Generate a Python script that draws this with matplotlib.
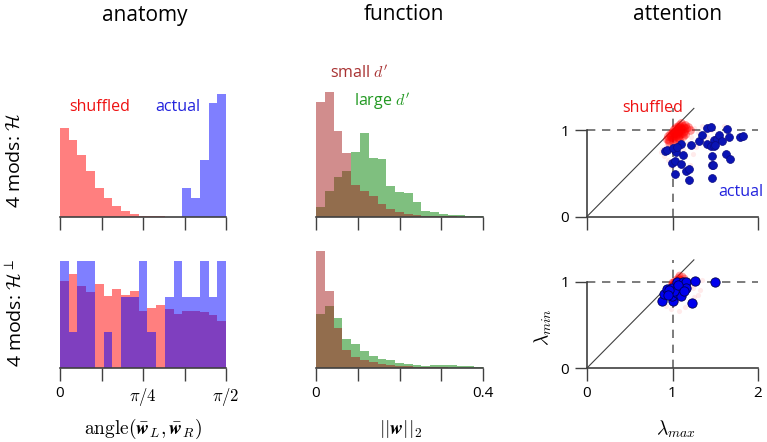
import numpy as np
import matplotlib
matplotlib.use("Agg")
import matplotlib.pyplot as plt

plt.rcParams['font.family'] = ['Open Sans', 'DejaVu Sans']
plt.rcParams['mathtext.fontset'] = 'cm'

# ---------------- data ----------------
col_titles = ["anatomy", "function", "attention"]
row_labels = [r"4 mods: $\mathcal{H}$", r"4 mods: $\mathcal{H}^{\perp}$"]

# angle histograms (19 bins over [0, pi/2], arbitrary count units)
angle_edges = np.linspace(0, np.pi / 2, 20)
angle_shuf_top = [265, 231, 186, 138, 86, 55, 32, 17, 7, 3, 2, 1, 0, 0, 0, 0, 0, 0, 0]
angle_act_top = [0, 0, 0, 0, 0, 0, 0, 0, 0, 0, 0, 0, 0, 0, 85, 57, 170, 340, 368]
angle_shuf_bot = [262, 282, 245, 227, 252, 217, 237, 220, 230, 170, 180, 190, 177, 163, 172, 172, 167, 160, 142]
angle_act_bot = [320, 108, 320, 320, 0, 108, 0, 213, 213, 320, 108, 0, 213, 320, 213, 213, 320, 213, 320]
angle_ticks = [0, np.pi / 8, np.pi / 4, 3 * np.pi / 8, np.pi / 2]
angle_ticklabels = ["0", "", r"$\pi/4$", "", r"$\pi/2$"]

# weight-norm histograms (19 bins over [0, 0.4])
norm_edges = np.linspace(0, 0.4, 20)
norm_small_top = [345, 375, 258, 191, 95, 78, 63, 38, 23, 13, 8, 6, 3, 2, 1, 1, 0, 0, 0]
norm_large_top = [28, 78, 118, 138, 195, 250, 176, 173, 93, 73, 70, 43, 16, 14, 8, 6, 6, 2, 1]
norm_small_bot = [350, 231, 121, 55, 33, 25, 18, 13, 10, 7, 5, 4, 3, 2, 2, 1, 1, 1, 0]
norm_large_bot = [161, 186, 151, 86, 72, 52, 36, 28, 23, 15, 13, 10, 5, 8, 8, 9, 7, 7, 2]
norm_ticks = [0, 0.1, 0.2, 0.3, 0.4]
norm_ticklabels = ["0", "", "", "", "0.4"]

# attention: actual (blue) points, lambda_max vs lambda_min
act_top_x = [0.91, 0.93, 1.03, 1.04, 1.10, 1.12, 1.22, 1.31, 1.35, 1.40, 1.45, 1.49, 1.52, 1.54,
             1.58, 1.64, 1.66, 1.79, 1.82, 1.40, 1.45, 1.48, 1.50, 1.46, 1.62, 1.67, 0.99, 1.03,
             1.10, 1.16, 1.19, 1.03, 1.19, 1.46, 1.47, 1.46, 1.00, 1.05]
act_top_y = [0.76, 0.77, 0.77, 0.74, 0.84, 0.71, 0.83, 0.87, 0.94, 1.02, 1.03, 0.89, 0.90, 0.94,
             0.87, 1.01, 0.92, 0.92, 0.93, 0.84, 0.82, 0.82, 0.83, 0.70, 0.72, 0.67, 0.62, 0.64,
             0.61, 0.53, 0.55, 0.49, 0.42, 0.60, 0.60, 0.45, 0.79, 0.80]
act_bot_x = [0.88, 0.90, 0.93, 0.99, 1.01, 0.99, 1.05, 1.05, 1.08, 1.10, 1.12, 1.12, 1.16, 1.16,
             1.26, 1.23, 1.50, 1.02, 0.96, 1.07, 1.13, 0.95]
act_bot_y = [0.77, 0.86, 0.91, 0.93, 0.78, 0.83, 0.99, 0.87, 0.93, 0.83, 1.00, 0.95, 1.00, 0.93,
             1.01, 0.75, 1.00, 0.89, 0.90, 0.96, 0.89, 0.84]

# attention: shuffled (red) clouds
shuf_top_x = [0.93, 0.95, 0.96, 0.97, 0.98, 0.99, 1.00, 1.00, 1.01, 1.02, 1.02, 1.03, 1.04, 1.04,
              1.05, 1.05, 1.06, 1.06, 1.07, 1.07, 1.08, 1.08, 1.09, 1.09, 1.10, 1.10, 1.11, 1.12,
              1.12, 1.13, 1.14, 1.15, 1.16, 1.18, 1.20, 0.96, 1.00, 1.04, 1.08, 1.12, 1.15, 1.02,
              1.06, 1.10, 0.98, 1.03, 1.07]
shuf_top_y = [0.90, 0.93, 0.89, 0.95, 0.92, 0.97, 0.94, 0.99, 0.91, 0.96, 1.01, 0.93, 0.98, 1.03,
              0.95, 1.00, 0.92, 1.04, 0.97, 1.02, 0.94, 1.06, 0.99, 1.03, 0.96, 1.08, 1.01, 0.97,
              1.05, 1.02, 0.99, 1.06, 1.02, 1.04, 1.00, 0.86, 0.87, 0.89, 0.90, 0.93, 0.95, 0.98,
              0.99, 1.02, 0.93, 0.96, 1.00]
faint_top_x = [0.88, 0.90, 0.95, 1.00, 1.05, 1.10, 1.18, 1.22, 1.25, 1.30, 1.35, 1.40, 1.28, 1.15,
               0.98, 1.60, 1.45, 1.20, 0.92, 1.33, 1.24, 1.12, 1.38, 0.86]
faint_top_y = [0.78, 0.70, 0.65, 0.80, 0.75, 0.62, 0.85, 0.92, 1.02, 0.98, 1.05, 0.92, 0.80, 0.70,
               0.58, 1.05, 1.00, 0.60, 0.82, 0.88, 0.72, 0.78, 0.97, 0.74]
shuf_bot_x = [0.98, 1.00, 1.02, 1.03, 1.04, 1.05, 1.06, 1.07, 1.08, 1.09, 1.10, 1.11, 1.12, 1.14,
              1.01, 1.05, 1.09, 1.13, 0.99, 1.16, 1.03, 1.07, 1.11]
shuf_bot_y = [0.96, 0.99, 1.01, 0.97, 1.03, 0.99, 1.05, 1.01, 1.07, 1.03, 1.00, 1.06, 1.02, 1.04,
              0.94, 0.95, 0.97, 0.99, 1.00, 1.01, 1.00, 1.03, 0.98]
faint_bot_x = [0.88, 0.92, 0.98, 1.05, 1.12, 1.18, 1.22, 1.28, 1.32, 1.25, 1.15, 1.35, 0.95, 1.20,
               1.08, 1.30, 1.02, 1.24]
faint_bot_y = [0.80, 0.72, 0.68, 0.78, 0.85, 0.90, 0.95, 0.98, 0.90, 0.82, 0.70, 1.02, 0.86, 0.76,
               0.66, 0.84, 0.74, 0.92]

# ---------------- layout ----------------
W, H = 767, 442
fig = plt.figure(figsize=(W / 100, H / 100), dpi=100)
AX_H = 126


def rect(x0, x1, base):
    return [x0 / W, 1 - base / H, (x1 - x0) / W, AX_H / H]


def ptext(x, y, s, **kw):
    fig.text(x / W, 1 - y / H, s, ha="center", va="center", **kw)


spine_col = "#404040"


def style_hist(ax, ticks, labels, xlim):
    for s in ["left", "top", "right"]:
        ax.spines[s].set_visible(False)
    ax.spines["bottom"].set_color(spine_col)
    ax.spines["bottom"].set_linewidth(1.2)
    ax.set_yticks([])
    ax.set_xticks(ticks)
    ax.set_xticklabels(labels)
    ax.set_xlim(*xlim)
    ax.set_ylim(0, 3 * AX_H)
    ax.tick_params(axis="x", direction="out", length=9, width=1, color=spine_col,
                   labelsize=11, pad=4)
    ax.patch.set_alpha(0)


bases = [216.5, 368]
for r in range(2):
    top = r == 0
    # anatomy
    ax = fig.add_axes(rect(60, 226, bases[r]))
    ax.stairs(angle_shuf_top if top else angle_shuf_bot, angle_edges, fill=True,
              color="red", alpha=0.5, lw=0)
    ax.stairs(angle_act_top if top else angle_act_bot, angle_edges, fill=True,
              color="blue", alpha=0.5, lw=0)
    style_hist(ax, angle_ticks, angle_ticklabels if not top else [""] * 5, (0, np.pi / 2))
    if not top:
        for lab in ax.get_xticklabels()[1:]:
            lab.set_fontsize(12)

    # function
    ax = fig.add_axes(rect(316, 483, bases[r]))
    ax.stairs(norm_large_top if top else norm_large_bot, norm_edges, fill=True,
              color="#008000", alpha=0.5, lw=0)
    ax.stairs(norm_small_top if top else norm_small_bot, norm_edges, fill=True,
              color="#a51c1c", alpha=0.5, lw=0)
    style_hist(ax, norm_ticks, norm_ticklabels if not top else [""] * 5, (0, 0.4))

    # attention
    ax = fig.add_axes(rect(587, 758, bases[r]))
    ax.plot([0, 1.25], [0, 1.25], color=spine_col, lw=0.8, zorder=1)
    ax.plot([0, 2], [1, 1], color="#666666", lw=1.2, ls=(0, (5, 4)), zorder=1)
    ax.plot([1, 1], [0, 1.25], color="#666666", lw=1.2, ls=(0, (5, 4)), zorder=1)
    if top:
        ax.scatter(faint_top_x, faint_top_y, s=14, color="red", alpha=0.08, lw=0, zorder=2)
        ax.scatter(shuf_top_x, shuf_top_y, s=40, color="red", alpha=0.4, lw=0, zorder=2)
        ax.scatter(act_top_x, act_top_y, s=32, color="#0a14b4", edgecolor="#0a0a80",
                   lw=0.5, zorder=3)
    else:
        ax.scatter(faint_bot_x, faint_bot_y, s=14, color="red", alpha=0.08, lw=0, zorder=2)
        ax.scatter(shuf_bot_x, shuf_bot_y, s=30, color="red", alpha=0.35, lw=0, zorder=2)
        ax.scatter(act_bot_x, act_bot_y, s=45, color="#0000ee", edgecolor="#000050",
                   lw=0.6, zorder=3)
    ax.set_xlim(0, 2)
    ax.set_ylim(0, AX_H / 86.5)
    for s in ["top", "right"]:
        ax.spines[s].set_visible(False)
    for s in ["left", "bottom"]:
        ax.spines[s].set_color(spine_col)
        ax.spines[s].set_linewidth(1.2)
    ax.spines["left"].set_bounds(0, 1)
    ax.spines["bottom"].set_bounds(0, 2)
    ax.set_xticks([0, 1, 2])
    ax.set_yticks([0, 1])
    ax.set_yticklabels(["0", "1"])
    ax.set_xticklabels(["0", "1", "2"] if not top else [""] * 3)
    ax.tick_params(direction="out", length=9, width=1, color=spine_col, labelsize=11, pad=4)
    ax.patch.set_alpha(0)

# titles and row labels
for x, t in zip([145, 404, 678], col_titles):
    ptext(x, 15, t, fontsize=15)
ptext(15, 160, row_labels[0], fontsize=14, rotation=90)
ptext(15, 313, row_labels[1], fontsize=14, rotation=90)

# annotations
ptext(100, 107, "shuffled", fontsize=11.5, color="#ee1111")
ptext(178, 107, "actual", fontsize=11.5, color="#2222dd")
ptext(359, 73, r"small $d'$", fontsize=11.5, color="#a83232")
ptext(382, 101, r"large $d'$", fontsize=11.5, color="#229922")
ptext(653, 108, "shuffled", fontsize=11.5, color="#ee1111")
ptext(741, 192, "actual", fontsize=11.5, color="#2222dd")

# axis labels
ptext(143, 429, r"$\mathrm{angle}(\bar{\mathbfit{w}}_L, \bar{\mathbfit{w}}_R)$", fontsize=14)
ptext(401, 429, r"$||\mathbfit{w}||_2$", fontsize=14)
ptext(676, 429, r"$\lambda_{max}$", fontsize=14)
ptext(543, 327, r"$\lambda_{min}$", fontsize=14, rotation=90)

fig.savefig("out.png", dpi=100)
